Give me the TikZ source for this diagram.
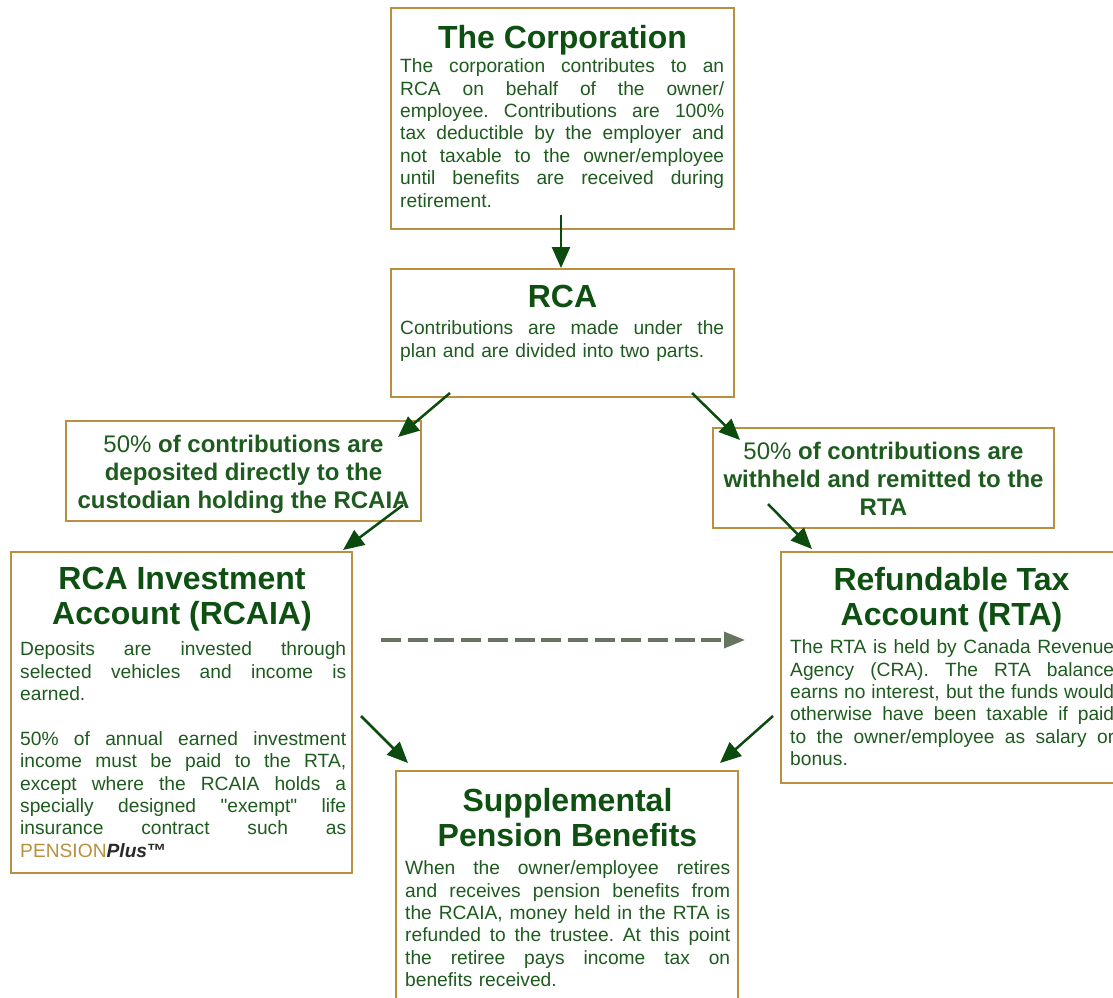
\documentclass[tikz,border=0pt]{standalone}
\usepackage{fontspec}
\setmainfont{Liberation Sans}
\newfontfamily\plainq{Liberation Sans}
\usetikzlibrary{arrows.meta}
\definecolor{gold}{HTML}{B8903F}
\definecolor{ttlc}{HTML}{0E4F12}
\definecolor{bodc}{HTML}{1E5B1E}
\definecolor{arrc}{HTML}{0B4B0E}
\definecolor{dshc}{HTML}{66755F}
\definecolor{plusc}{HTML}{2A2A2A}
\newcommand\jl[1]{\par\noindent\hbox to\hsize{\spaceskip=.2em plus 1fil\relax\xspaceskip=\spaceskip #1}\par}
\newcommand\lastl[1]{\par\noindent #1\par}
\begin{document}
\begin{tikzpicture}[x=1pt,y=-1pt,
  box/.style={draw=gold,line width=2.4pt,inner sep=0pt,fill=none},
  ttl/.style={anchor=north,inner sep=0pt,align=center,text=ttlc,font=\fontsize{32}{35}\selectfont\bfseries},
  bodytxt/.style={anchor=north west,inner sep=0pt,text width=#1,align=left,text=bodc,font=\fontsize{19.2}{22.4}\selectfont},
  smtxt/.style={anchor=north,inner sep=0pt,align=center,text=bodc,font=\fontsize{24}{28}\selectfont\bfseries},
  arr/.style={draw=arrc,line width=2.5pt,-{Triangle[length=21pt,width=18pt]}},
  dsh/.style={draw=dshc,line width=3.4pt,dash pattern=on 20pt off 6.7pt,-{Triangle[length=21pt,width=16pt]}}]
\useasboundingbox[fill=white] (0,0) rectangle (1113,997);

% boxes
\node[box,minimum width=343pt,minimum height=221pt] (corp) at (562.5,118.5) {};
\node[box,minimum width=343pt,minimum height=128pt] (rca) at (562.5,333) {};
\node[box,minimum width=355pt,minimum height=100pt] (lbox) at (243.5,471) {};
\node[box,minimum width=341pt,minimum height=100pt] (rbox) at (883.5,478) {};
\node[box,minimum width=341pt,minimum height=321pt] (rcaia) at (181.5,712.5) {};
\node[box,minimum width=343pt,minimum height=231pt] (rta) at (952.5,667.5) {};
\node[box,minimum width=342pt,minimum height=250pt] (spb) at (567,896) {};

% titles
\node[ttl] (corpT) at (562.5,24.7) {The Corporation};
\node[ttl] (rcaT) at (562.5,285.1) {RCA};
\node[ttl] (rcaiaT) at (182,567.1) {RCA Investment\\Account (RCAIA)};
\node[ttl] (rtaT) at (951.5,566.7) {Refundable Tax\\Account (RTA)};
\node[ttl] (spbT) at (567.5,787.7) {Supplemental\\Pension Benefits};

% bodies
\node[bodytxt=324pt] (corpB) at (400,50) {%
\jl{The corporation contributes to an}
\jl{RCA on behalf of the owner/}
\jl{employee. Contributions are 100\%}
\jl{tax deductible by the employer and}
\jl{not taxable to the owner/employee}
\jl{until benefits are received during}
\lastl{retirement.}};

\node[bodytxt=324pt] (rcaB) at (400,312) {%
\jl{Contributions are made under the}
\lastl{plan and are divided into two parts.}};

\node[bodytxt=326pt] (rcaiaB) at (20,633) {%
\jl{Deposits are invested through}
\jl{selected vehicles and income is}
\lastl{earned.}
\vspace{22.4pt}
\jl{50\% of annual earned investment}
\jl{income must be paid to the RTA,}
\jl{except where the RCAIA holds a}
\jl{specially designed {\plainq"exempt"} life}
\jl{insurance contract such as}
\lastl{{\color{gold}PENSION}{\color{plusc}\bfseries\itshape Plus}{\color{plusc}\bfseries ™}}};

\node[bodytxt=324pt] (rtaB) at (790,631) {%
\jl{The RTA is held by Canada Revenue}
\jl{Agency (CRA). The RTA balance}
\jl{earns no interest, but the funds would}
\jl{otherwise have been taxable if paid}
\jl{to the owner/employee as salary or}
\lastl{bonus.}};

\node[bodytxt=325pt] (spbB) at (405,852) {%
\jl{When the owner/employee retires}
\jl{and receives pension benefits from}
\jl{the RCAIA, money held in the RTA is}
\jl{refunded to the trustee. At this point}
\jl{the retiree pays income tax on}
\lastl{benefits received.}};

% small boxes text
\node[smtxt] (lboxT) at (243.5,434.5) {{\mdseries 50\%} of contributions are\\deposited directly to the\\custodian holding the RCAIA};
\node[smtxt] (rboxT) at (883.5,441.5) {{\mdseries 50\%} of contributions are\\withheld and remitted to the\\RTA};

% connector ends
\coordinate (c1s) at (561,215);
\coordinate (c1e) at (561,268);
\coordinate (c2s) at (450,393);
\coordinate (c2e) at (398,437);
\coordinate (c3s) at (692,393);
\coordinate (c3e) at (740,440);
\coordinate (c4s) at (403,505);
\coordinate (c4e) at (343,550);
\coordinate (c5s) at (768,504);
\coordinate (c5e) at (812,549);
\coordinate (c6s) at (381,640);
\coordinate (c6e) at (745,640);
\coordinate (c7s) at (361,716);
\coordinate (c7e) at (408,763);
\coordinate (c8s) at (773,716);
\coordinate (c8e) at (720,763);

\draw[arr] (c1s) -- (c1e);
\draw[arr] (c2s) -- (c2e);
\draw[arr] (c3s) -- (c3e);
\draw[arr] (c4s) -- (c4e);
\draw[arr] (c5s) -- (c5e);
\draw[dsh] (c6s) -- (c6e);
\draw[arr] (c7s) -- (c7e);
\draw[arr] (c8s) -- (c8e);
\end{tikzpicture}
\end{document}
